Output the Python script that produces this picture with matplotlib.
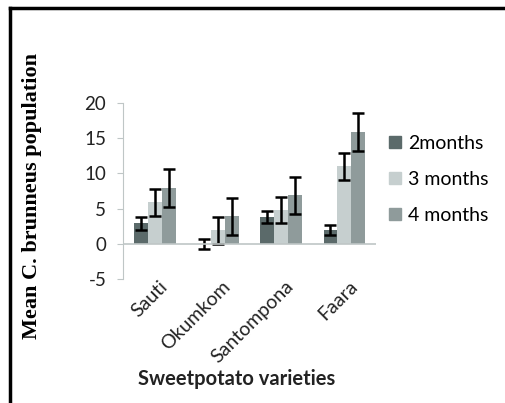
import numpy as np
import matplotlib.pyplot as plt
import matplotlib.transforms as mtransforms
from matplotlib.lines import Line2D
from matplotlib.patches import Patch

plt.rcParams['axes.unicode_minus'] = False

# data
varieties = ['Sauti', 'Okumkom', 'Santompona', 'Faara']
series = ['2months', '3 months', '4 months']
mean_2m = [2.9, 0.0, 3.8, 2.0]
mean_3m = [5.9, 1.9, 4.8, 11.0]
mean_4m = [7.9, 3.9, 6.9, 15.9]
err_2m = [0.9, 0.7, 0.8, 0.7]
err_3m = [1.9, 1.9, 1.9, 1.9]
err_4m = [2.7, 2.6, 2.6, 2.7]
colors = ['#5b6a6a', '#c6cfcf', '#8f9b9b']

fig = plt.figure(figsize=(5.05, 4.03), dpi=100)
ax = fig.add_axes([0.2436, 0.3077, 0.501, 0.4367])

x = np.arange(len(varieties))
w = 0.22
means = [mean_2m, mean_3m, mean_4m]
errs = [err_2m, err_3m, err_4m]
for i in range(3):
    ax.bar(x + (i - 1) * w, means[i], w, color=colors[i], label=series[i],
           yerr=errs[i], capsize=4.5,
           error_kw=dict(elinewidth=1.8, capthick=1.8, ecolor='black'))

ax.set_xlim(-0.5, 3.5)
ax.set_ylim(-5, 20)
ax.set_yticks([-5, 0, 5, 10, 15, 20])
ax.axhline(0, color='#bfc6c6', lw=1.2)
for s in ['top', 'right', 'bottom']:
    ax.spines[s].set_visible(False)
ax.spines['left'].set_color('#bfc6c6')
ax.tick_params(axis='y', colors='#bfc6c6', length=4, pad=8,
               labelcolor='#222222', labelsize=13.5)
ax.tick_params(axis='x', length=0, pad=-1, labelsize=14, labelcolor='#222222')
ax.set_xticks(x)
ax.set_xticklabels(varieties, rotation=45, ha='right', rotation_mode='anchor',
                   family='Lato')
shift = mtransforms.ScaledTranslation(4 / 100, 0, fig.dpi_scale_trans)
for t in ax.get_xticklabels():
    t.set_transform(t.get_transform() + shift)
for t in ax.get_yticklabels():
    t.set_family('Lato')

ax.set_xlabel('Sweetpotato varieties', family='Lato', fontweight='bold',
              fontsize=14.5, color='#222222')
ax.xaxis.set_label_coords(0.45, -0.51)
ax.set_ylabel('Mean C. brunneus population', family='Liberation Serif',
              fontweight='bold', fontsize=16)
ax.yaxis.set_label_coords(-0.32, 0.47)

handles = [Patch(color=c) for c in colors]
fig.legend(handles, series, loc='upper left', bbox_to_anchor=(0.755, 0.685),
           frameon=False, prop={'family': 'Lato', 'size': 14},
           handlelength=0.6, handleheight=0.6, handletextpad=0.4,
           labelspacing=0.98, borderaxespad=0)

# black frame on top and left
fig.add_artist(Line2D([0.02, 0.02], [0, 0.98], color='black', lw=2.5,
                      transform=fig.transFigure))
fig.add_artist(Line2D([0.02, 1], [0.98, 0.98], color='black', lw=2.5,
                      transform=fig.transFigure))

fig.savefig('out.png', dpi=100)
